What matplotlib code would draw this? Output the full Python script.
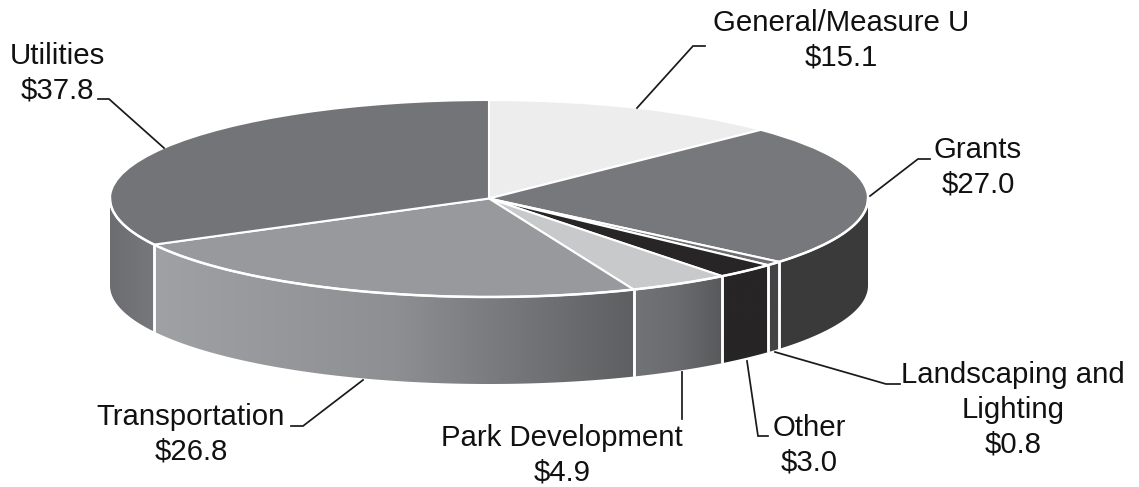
import numpy as np
import matplotlib
matplotlib.use("Agg")
import matplotlib.pyplot as plt
from matplotlib.colors import LinearSegmentedColormap
from matplotlib.patches import Polygon
from matplotlib.transforms import Affine2D

plt.rcParams['font.family'] = ['Liberation Sans', 'DejaVu Sans']

# ---- data ----
categories = ["General/Measure U", "Grants", "Landscaping and\nLighting", "Other",
              "Park Development", "Transportation", "Utilities"]
values = [15.1, 27.0, 0.8, 3.0, 4.9, 26.8, 37.8]
top_colors = ["#EDEDED", "#77787B", "#6D6E71", "#272526", "#C8C9CA", "#98999C", "#737477"]
# side shading, left to right
side_colors = [["#EDEDED", "#EDEDED"], ["#3A3A3A", "#3A3A3A"], ["#444446", "#444446"],
               ["#272526", "#272526"], ["#727376", "#6A6B6E", "#58595B"],
               ["#A0A1A4", "#8E8F92", "#5E5F61"], ["#6C6D70", "#77787B"]]
# centre x and first-line baseline y of each label
label_pos = [(841, 31), (978, 158), (1013, 383), (809, 436), (562, 446), (191, 425), (57, 64)]
leaders = [[(637, 108), (693, 46), (705, 46)],
           [(870, 196), (918, 159), (930, 159)],
           [(775, 352), (886, 384), (900, 384)],
           [(747, 361), (758, 436), (768, 436)],
           [(681.5, 372), (681.5, 419)],
           [(363, 380), (303, 426), (291, 426)],
           [(164, 148), (109, 99), (98, 99)]]

# ---- geometry ----
CX, CY, A, B, DEPTH = 489, 198.5, 379, 98.5, 87
LINE = 1.8

fig = plt.figure(figsize=(11.39, 4.87), dpi=100)
ax = fig.add_axes([0, 0, 1, 1])
ax.set_xlim(0, 1139)
ax.set_ylim(487, 0)
ax.axis("off")

fracs = np.cumsum([0] + values) / sum(values)
raw = fracs * 2 * np.pi  # clockwise from 12 o'clock
# the original's tilted drawing pulls the right-hand side slightly towards the top
angles = raw - np.radians(1.5) * np.sqrt(np.clip(np.sin(raw), 0, None))


def ex(t):
    return CX + A * np.sin(t)


def ey(t, dy=0):
    return CY - B * np.cos(t) + dy


# sides: only the front half (pi/2 .. 3pi/2) is visible
for i, c in enumerate(categories):
    lo, hi = max(angles[i], np.pi / 2), min(angles[i + 1], 3 * np.pi / 2)
    if hi <= lo:
        continue
    t = np.linspace(lo, hi, 120)
    upper = np.column_stack([ex(t), ey(t)])
    lower = np.column_stack([ex(t), ey(t, DEPTH)])[::-1]
    poly = Polygon(np.vstack([upper, lower]), closed=True, transform=ax.transData,
                   facecolor="none", edgecolor="none")
    ax.add_patch(poly)
    x0, x1 = min(ex(lo), ex(hi)), max(ex(lo), ex(hi))
    cmap = LinearSegmentedColormap.from_list("s%d" % i, side_colors[i])
    y0, y1 = min(upper[:, 1].min(), lower[:, 1].min()), max(upper[:, 1].max(), lower[:, 1].max())
    im = ax.imshow(np.linspace(0, 1, 256)[None, :], cmap=cmap, aspect="auto",
                   extent=(x0, x1, y1, y0), zorder=1)
    im.set_clip_path(poly)
    for edge in (lo, hi):
        if np.pi / 2 < edge < 3 * np.pi / 2:
            ax.plot([ex(edge)] * 2, [ey(edge), ey(edge, DEPTH)], color="white", lw=LINE,
                    zorder=2, solid_capstyle="butt")

# top face: a pie squashed into an ellipse (y axis runs downwards)
wedges, _ = ax.pie(values, startangle=90, counterclock=False, colors=top_colors, radius=1,
                   wedgeprops=dict(edgecolor="white", linewidth=1.5), frame=True)
ax.set_aspect("auto")
ax.set_xlim(0, 1139)
ax.set_ylim(487, 0)
ax.axis("off")
squash = Affine2D().scale(A, -B).translate(CX, CY) + ax.transData
for i, w in enumerate(wedges):
    w.set_theta1(90 - np.degrees(angles[i + 1]))
    w.set_theta2(90 - np.degrees(angles[i]))
    w.set_transform(squash)
    w.set_zorder(3)
    w.set_clip_on(False)

t = np.linspace(np.pi / 2, 3 * np.pi / 2, 300)
ax.plot(ex(t), ey(t), color="white", lw=LINE, zorder=4)

# leaders and labels
for cat, val, pos, pts in zip(categories, values, label_pos, leaders):
    xs, ys = zip(*pts)
    ax.plot(xs, ys, color="#1a1a1a", lw=1.25, zorder=5, solid_joinstyle="miter")
    lines = cat.split("\n") + ["$%.1f" % val]
    for k, line in enumerate(lines):
        ax.text(pos[0], pos[1] + 34.6 * k, line.replace("$", r"\$"), ha="center", va="baseline",
                fontsize=21.2, color="#111111", zorder=6)

fig.savefig("out.png", dpi=100)
